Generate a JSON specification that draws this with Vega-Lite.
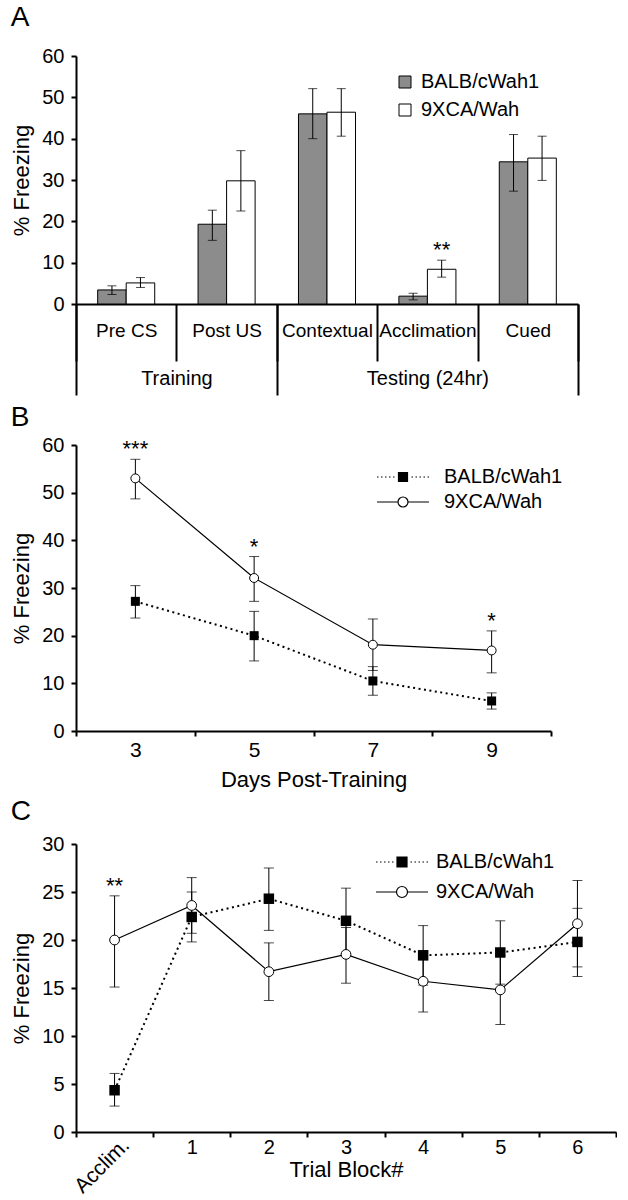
{
  "$schema": "https://vega.github.io/schema/vega-lite/v6.json",
  "background": "white",
  "padding": {"left": 10, "top": 4, "right": 0, "bottom": 0},
  "spacing": 8,
  "resolve": {
    "scale": {"fill": "independent", "shape": "independent"},
    "legend": {"fill": "independent", "shape": "independent"}
  },
  "datasets": {
    "phases": [
      {"phase": "Training", "n": 2},
      {"phase": "Testing (24hr)", "n": 3}
    ],
    "A": [
      {"cond": "Pre CS", "strain": "BALB/cWah1", "mean": 3.4, "lo": 2.3, "hi": 4.4, "sig": ""},
      {"cond": "Pre CS", "strain": "9XCA/Wah", "mean": 5.1, "lo": 4.0, "hi": 6.4, "sig": ""},
      {"cond": "Post US", "strain": "BALB/cWah1", "mean": 19.3, "lo": 15.4, "hi": 22.7, "sig": ""},
      {"cond": "Post US", "strain": "9XCA/Wah", "mean": 29.8, "lo": 22.5, "hi": 37.1, "sig": ""},
      {"cond": "Contextual", "strain": "BALB/cWah1", "mean": 46.0, "lo": 40.0, "hi": 52.1, "sig": ""},
      {"cond": "Contextual", "strain": "9XCA/Wah", "mean": 46.4, "lo": 40.6, "hi": 52.1, "sig": ""},
      {"cond": "Acclimation", "strain": "BALB/cWah1", "mean": 1.9, "lo": 1.0, "hi": 2.6, "sig": ""},
      {"cond": "Acclimation", "strain": "9XCA/Wah", "mean": 8.4, "lo": 6.5, "hi": 10.6, "sig": "**"},
      {"cond": "Cued", "strain": "BALB/cWah1", "mean": 34.4, "lo": 27.3, "hi": 41.0, "sig": ""},
      {"cond": "Cued", "strain": "9XCA/Wah", "mean": 35.3, "lo": 29.9, "hi": 40.6, "sig": ""}
    ],
    "B": [
      {"day": 3, "strain": "BALB/cWah1", "mean": 27.2, "lo": 23.7, "hi": 30.5, "sig": ""},
      {"day": 5, "strain": "BALB/cWah1", "mean": 20.0, "lo": 14.7, "hi": 25.1, "sig": ""},
      {"day": 7, "strain": "BALB/cWah1", "mean": 10.5, "lo": 7.5, "hi": 13.5, "sig": ""},
      {"day": 9, "strain": "BALB/cWah1", "mean": 6.3, "lo": 4.6, "hi": 8.0, "sig": ""},
      {"day": 3, "strain": "9XCA/Wah", "mean": 53.0, "lo": 48.7, "hi": 57.0, "sig": "***"},
      {"day": 5, "strain": "9XCA/Wah", "mean": 32.1, "lo": 27.2, "hi": 36.6, "sig": "*"},
      {"day": 7, "strain": "9XCA/Wah", "mean": 18.1, "lo": 12.7, "hi": 23.5, "sig": ""},
      {"day": 9, "strain": "9XCA/Wah", "mean": 16.9, "lo": 12.2, "hi": 21.0, "sig": "*"}
    ],
    "C": [
      {"block": "Acclim.", "strain": "BALB/cWah1", "mean": 4.35, "lo": 2.7, "hi": 6.1, "sig": ""},
      {"block": "1", "strain": "BALB/cWah1", "mean": 22.4, "lo": 19.8, "hi": 25.0, "sig": ""},
      {"block": "2", "strain": "BALB/cWah1", "mean": 24.3, "lo": 21.0, "hi": 27.5, "sig": ""},
      {"block": "3", "strain": "BALB/cWah1", "mean": 22.0, "lo": 18.6, "hi": 25.4, "sig": ""},
      {"block": "4", "strain": "BALB/cWah1", "mean": 18.4, "lo": 15.3, "hi": 21.5, "sig": ""},
      {"block": "5", "strain": "BALB/cWah1", "mean": 18.7, "lo": 15.4, "hi": 22.0, "sig": ""},
      {"block": "6", "strain": "BALB/cWah1", "mean": 19.8, "lo": 16.2, "hi": 23.3, "sig": ""},
      {"block": "Acclim.", "strain": "9XCA/Wah", "mean": 20.0, "lo": 15.1, "hi": 24.6, "sig": "**"},
      {"block": "1", "strain": "9XCA/Wah", "mean": 23.6, "lo": 20.7, "hi": 26.5, "sig": ""},
      {"block": "2", "strain": "9XCA/Wah", "mean": 16.7, "lo": 13.7, "hi": 19.7, "sig": ""},
      {"block": "3", "strain": "9XCA/Wah", "mean": 18.5, "lo": 15.5, "hi": 21.3, "sig": ""},
      {"block": "4", "strain": "9XCA/Wah", "mean": 15.7, "lo": 12.5, "hi": 18.9, "sig": ""},
      {"block": "5", "strain": "9XCA/Wah", "mean": 14.8, "lo": 11.2, "hi": 18.4, "sig": ""},
      {"block": "6", "strain": "9XCA/Wah", "mean": 21.7, "lo": 17.2, "hi": 26.2, "sig": ""}
    ]
  },
  "vconcat": [
    {
      "width": 502,
      "height": 248,
      "title": {"text": "A", "offset": 14},
      "layer": [
        {
          "data": {"name": "phases"},
          "mark": {"type": "bar", "opacity": 0},
          "encoding": {
            "x": {
              "field": "n", "type": "quantitative", "stack": "zero",
              "scale": {"domain": [0, 5], "nice": false},
              "axis": {
                "title": null, "orient": "bottom", "values": [0, 1, 2, 3.5, 5],
                "labelExpr": "datum.value == 1 ? 'Training' : datum.value == 3.5 ? 'Testing (24hr)' : ''",
                "tickSize": 91,
                "tickOpacity": {"condition": {"test": "datum.value == 0 || datum.value == 2 || datum.value == 5", "value": 1}, "value": 0},
                "domain": false, "labelPadding": -27, "labelOverlap": false, "labelFlush": false, "labelFontSize": 20
              }
            },
            "detail": {"field": "phase"}
          }
        },
        {
          "data": {"name": "A"},
          "encoding": {
            "x": {
              "field": "cond", "type": "nominal",
              "sort": ["Pre CS", "Post US", "Contextual", "Acclimation", "Cued"],
              "scale": {"paddingInner": 0, "paddingOuter": 0},
              "axis": {"title": null, "orient": "bottom", "tickBand": "extent", "tickSize": 57, "labelPadding": -40, "labelAngle": 0, "labelFontSize": 19}
            },
            "xOffset": {"field": "strain", "sort": ["BALB/cWah1", "9XCA/Wah"], "scale": {"paddingOuter": 0.76, "paddingInner": 0}}
          },
          "layer": [
            {
              "mark": {"type": "bar", "stroke": "black", "strokeWidth": 1},
              "encoding": {
                "y": {"field": "mean", "type": "quantitative", "title": "% Freezing", "scale": {"domain": [0, 60]}, "axis": {"values": [0, 10, 20, 30, 40, 50, 60]}},
                "fill": {
                  "field": "strain", "type": "nominal", "sort": ["BALB/cWah1", "9XCA/Wah"],
                  "scale": {"domain": ["BALB/cWah1", "9XCA/Wah"], "range": ["#8c8c8c", "white"]},
                  "legend": {
                    "title": null, "orient": "none", "legendX": 319, "legendY": 16,
                    "symbolType": "square", "symbolSize": 144, "symbolStrokeColor": "black", "symbolStrokeWidth": 1,
                    "labelOffset": 6, "rowPadding": 8, "labelFontSize": 20,
                    "encode": {"symbols": {"update": {"stroke": {"value": "black"}, "strokeWidth": {"value": 1}, "opacity": {"value": 1}}}}
                  }
                }
              }
            },
            {
              "mark": {"type": "rule", "color": "black", "strokeWidth": 1},
              "encoding": {
                "y": {"field": "lo", "type": "quantitative", "title": "% Freezing", "scale": {"domain": [0, 60]}},
                "y2": {"field": "hi"}
              }
            },
            {
              "mark": {"type": "tick", "color": "black", "thickness": 1, "size": 9},
              "encoding": {"y": {"field": "hi", "type": "quantitative", "title": "% Freezing", "scale": {"domain": [0, 60]}}}
            },
            {
              "mark": {"type": "tick", "color": "black", "thickness": 1, "size": 9},
              "encoding": {"y": {"field": "lo", "type": "quantitative", "title": "% Freezing", "scale": {"domain": [0, 60]}}}
            },
            {
              "mark": {"type": "text", "fontSize": 22, "baseline": "alphabetic", "dy": -3, "color": "black"},
              "encoding": {
                "y": {"field": "hi", "type": "quantitative", "title": "% Freezing", "scale": {"domain": [0, 60]}},
                "text": {"field": "sig"}
              }
            }
          ]
        }
      ],
      "resolve": {"scale": {"x": "independent"}, "axis": {"x": "independent"}}
    },
    {
      "width": 475,
      "height": 286,
      "title": {"text": "B", "offset": 3},
      "data": {"name": "B"},
      "encoding": {
        "x": {
          "field": "day", "type": "ordinal", "bandPosition": 0.5,
          "scale": {"type": "band", "paddingInner": 0, "paddingOuter": 0},
          "axis": {"title": "Days Post-Training", "tickBand": "extent", "labelAngle": 0, "labelPadding": 3, "labelFontSize": 21, "titlePadding": 9}
        }
      },
      "layer": [
        {
          "mark": {"type": "point", "opacity": 0, "filled": true, "stroke": "black"},
          "encoding": {
            "y": {"field": "mean", "type": "quantitative", "title": "% Freezing", "scale": {"domain": [0, 60]}, "axis": {"values": [0, 10, 20, 30, 40, 50, 60]}},
            "shape": {
              "field": "strain", "type": "nominal",
              "scale": {"domain": ["BALB/cWah1", "9XCA/Wah"], "range": [
                "M-5.2,0H-4.9M-4.4,0H-4.1M-3.6,0H-3.3M-2.8,0H-2.5M-2,0H-1.7M1.7,0H2M2.5,0H2.8M3.3,0H3.6M4.1,0H4.4M4.9,0H5.2M-0.9,-0.9H0.9V0.9H-0.9Z",
                "M-5.2,0H-1M1,0H5.2M1,0A1,1,0,1,1,-1,0A1,1,0,1,1,1,0Z"
              ]},
              "legend": {
                "title": null, "orient": "none", "legendX": 301, "legendY": 22,
                "symbolSize": 100, "symbolStrokeColor": "black", "symbolStrokeWidth": 1.2,
                "symbolOffset": 16, "labelOffset": 31, "rowPadding": 5, "labelFontSize": 20, "symbolOpacity": 1,
                "encode": {"symbols": {"update": {"stroke": {"value": "black"}, "strokeWidth": {"value": 1.2}, "opacity": {"value": 1}}}}
              }
            },
            "fill": {
              "field": "strain", "type": "nominal",
              "scale": {"domain": ["BALB/cWah1", "9XCA/Wah"], "range": ["black", "white"]},
              "legend": {
                "title": null, "orient": "none", "legendX": 301, "legendY": 22,
                "symbolSize": 100, "symbolStrokeColor": "black", "symbolStrokeWidth": 1.2,
                "symbolOffset": 16, "labelOffset": 31, "rowPadding": 5, "labelFontSize": 20, "symbolOpacity": 1,
                "encode": {"symbols": {"update": {"stroke": {"value": "black"}, "strokeWidth": {"value": 1.2}, "opacity": {"value": 1}}}}
              }
            }
          }
        },
        {
          "transform": [{"filter": "datum.strain == 'BALB/cWah1'"}],
          "mark": {"type": "line", "color": "black", "strokeWidth": 2, "strokeDash": [2, 3.5]},
          "encoding": {"y": {"field": "mean", "type": "quantitative", "title": "% Freezing", "scale": {"domain": [0, 60]}}}
        },
        {
          "transform": [{"filter": "datum.strain == '9XCA/Wah'"}],
          "mark": {"type": "line", "color": "black", "strokeWidth": 1.2},
          "encoding": {"y": {"field": "mean", "type": "quantitative", "title": "% Freezing", "scale": {"domain": [0, 60]}}}
        },
        {
          "mark": {"type": "rule", "color": "black", "strokeWidth": 1},
          "encoding": {
            "y": {"field": "lo", "type": "quantitative", "title": "% Freezing", "scale": {"domain": [0, 60]}},
            "y2": {"field": "hi"}
          }
        },
        {
          "mark": {"type": "tick", "color": "black", "thickness": 1, "size": 10},
          "encoding": {"y": {"field": "hi", "type": "quantitative", "title": "% Freezing", "scale": {"domain": [0, 60]}}}
        },
        {
          "mark": {"type": "tick", "color": "black", "thickness": 1, "size": 10},
          "encoding": {"y": {"field": "lo", "type": "quantitative", "title": "% Freezing", "scale": {"domain": [0, 60]}}}
        },
        {
          "transform": [{"filter": "datum.strain == 'BALB/cWah1'"}],
          "mark": {"type": "square", "filled": true, "color": "black", "size": 81, "opacity": 1},
          "encoding": {"y": {"field": "mean", "type": "quantitative", "title": "% Freezing", "scale": {"domain": [0, 60]}}}
        },
        {
          "transform": [{"filter": "datum.strain == '9XCA/Wah'"}],
          "mark": {"type": "point", "shape": "circle", "filled": true, "fill": "white", "stroke": "black", "strokeWidth": 1, "size": 80, "opacity": 1},
          "encoding": {"y": {"field": "mean", "type": "quantitative", "title": "% Freezing", "scale": {"domain": [0, 60]}}}
        },
        {
          "mark": {"type": "text", "fontSize": 22, "baseline": "alphabetic", "dy": -3, "color": "black"},
          "encoding": {
            "y": {"field": "hi", "type": "quantitative", "title": "% Freezing", "scale": {"domain": [0, 60]}},
            "text": {"field": "sig"}
          }
        }
      ]
    },
    {
      "width": 540,
      "height": 288,
      "title": {"text": "C", "offset": 8},
      "data": {"name": "C"},
      "layer": [
        {
          "encoding": {
            "x": {
              "field": "block", "type": "ordinal", "bandPosition": 0.5,
              "sort": ["Acclim.", "1", "2", "3", "4", "5", "6"],
              "scale": {"type": "band", "paddingInner": 0, "paddingOuter": 0},
              "axis": {"title": "Trial Block#", "orient": "bottom", "tickBand": "extent", "labelAngle": 0, "labelPadding": 0, "labelFontSize": 20, "titlePadding": 2,
                "labelExpr": "datum.value == 'Acclim.' ? '' : datum.label"}
            }
          },
          "layer": [
            {
              "mark": {"type": "point", "opacity": 0, "filled": true, "stroke": "black"},
              "encoding": {
                "y": {"field": "mean", "type": "quantitative", "title": "% Freezing", "scale": {"domain": [0, 30]}, "axis": {"values": [0, 5, 10, 15, 20, 25, 30]}},
                "shape": {
                  "field": "strain", "type": "nominal",
                  "scale": {"domain": ["BALB/cWah1", "9XCA/Wah"], "range": [
                    "M-5.2,0H-4.9M-4.4,0H-4.1M-3.6,0H-3.3M-2.8,0H-2.5M-2,0H-1.7M1.7,0H2M2.5,0H2.8M3.3,0H3.6M4.1,0H4.4M4.9,0H5.2M-1,-1H1V1H-1Z",
                    "M-5.2,0H-1.1M1.1,0H5.2M1.1,0A1.1,1.1,0,1,1,-1.1,0A1.1,1.1,0,1,1,1.1,0Z"
                  ]},
                  "legend": {
                    "title": null, "orient": "none", "legendX": 300, "legendY": 8,
                    "symbolSize": 100, "symbolStrokeColor": "black", "symbolStrokeWidth": 1.2,
                    "symbolOffset": 16, "labelOffset": 24, "rowPadding": 10, "labelFontSize": 20, "symbolOpacity": 1,
                    "encode": {"symbols": {"update": {"stroke": {"value": "black"}, "strokeWidth": {"value": 1.2}, "opacity": {"value": 1}}}}
                  }
                },
                "fill": {
                  "field": "strain", "type": "nominal",
                  "scale": {"domain": ["BALB/cWah1", "9XCA/Wah"], "range": ["black", "white"]},
                  "legend": {
                    "title": null, "orient": "none", "legendX": 300, "legendY": 8,
                    "symbolSize": 100, "symbolStrokeColor": "black", "symbolStrokeWidth": 1.2,
                    "symbolOffset": 16, "labelOffset": 24, "rowPadding": 10, "labelFontSize": 20, "symbolOpacity": 1,
                    "encode": {"symbols": {"update": {"stroke": {"value": "black"}, "strokeWidth": {"value": 1.2}, "opacity": {"value": 1}}}}
                  }
                }
              }
            },
            {
              "transform": [{"filter": "datum.strain == 'BALB/cWah1'"}],
              "mark": {"type": "line", "color": "black", "strokeWidth": 2, "strokeDash": [2, 3.5]},
              "encoding": {"y": {"field": "mean", "type": "quantitative", "title": "% Freezing", "scale": {"domain": [0, 30]}}}
            },
            {
              "transform": [{"filter": "datum.strain == '9XCA/Wah'"}],
              "mark": {"type": "line", "color": "black", "strokeWidth": 1.2},
              "encoding": {"y": {"field": "mean", "type": "quantitative", "title": "% Freezing", "scale": {"domain": [0, 30]}}}
            },
            {
              "mark": {"type": "rule", "color": "black", "strokeWidth": 1},
              "encoding": {
                "y": {"field": "lo", "type": "quantitative", "title": "% Freezing", "scale": {"domain": [0, 30]}},
                "y2": {"field": "hi"}
              }
            },
            {
              "mark": {"type": "tick", "color": "black", "thickness": 1, "size": 10},
              "encoding": {"y": {"field": "hi", "type": "quantitative", "title": "% Freezing", "scale": {"domain": [0, 30]}}}
            },
            {
              "mark": {"type": "tick", "color": "black", "thickness": 1, "size": 10},
              "encoding": {"y": {"field": "lo", "type": "quantitative", "title": "% Freezing", "scale": {"domain": [0, 30]}}}
            },
            {
              "transform": [{"filter": "datum.strain == 'BALB/cWah1'"}],
              "mark": {"type": "square", "filled": true, "color": "black", "size": 110, "opacity": 1},
              "encoding": {"y": {"field": "mean", "type": "quantitative", "title": "% Freezing", "scale": {"domain": [0, 30]}}}
            },
            {
              "transform": [{"filter": "datum.strain == '9XCA/Wah'"}],
              "mark": {"type": "point", "shape": "circle", "filled": true, "fill": "white", "stroke": "black", "strokeWidth": 1, "size": 95, "opacity": 1},
              "encoding": {"y": {"field": "mean", "type": "quantitative", "title": "% Freezing", "scale": {"domain": [0, 30]}}}
            }
          ]
        },
        {
          "mark": {"type": "text", "fontSize": 22, "baseline": "alphabetic", "dy": -3, "color": "black"},
          "encoding": {
            "x": {
              "field": "block", "type": "ordinal", "bandPosition": 0.5,
              "scale": {"type": "band", "domain": ["Acclim.", "1", "2", "3", "4", "5", "6"], "paddingInner": 0, "paddingOuter": 0},
              "axis": {"title": null, "orient": "bottom", "domain": false, "ticks": false, "labelAngle": -45, "labelAlign": "right", "labelBaseline": "top", "labelPadding": 2, "labelOffset": 4, "labelFontSize": 21,
                "labelExpr": "datum.value == 'Acclim.' ? datum.label : ''"}
            },
            "y": {"field": "hi", "type": "quantitative", "title": "% Freezing", "scale": {"domain": [0, 30]}},
            "text": {"field": "sig"}
          }
        }
      ],
      "resolve": {"scale": {"x": "independent"}, "axis": {"x": "independent"}}
    }
  ],
  "config": {
    "font": "Liberation Sans",
    "view": {"stroke": null},
    "axis": {
      "domainColor": "black", "domainWidth": 2, "tickColor": "black", "tickWidth": 2, "tickSize": 5,
      "labelColor": "black", "labelFontSize": 20, "labelFont": "Liberation Sans",
      "titleFont": "Liberation Sans", "titleFontSize": 22, "titleFontWeight": "normal", "titleColor": "black",
      "grid": false, "labelPadding": 6
    },
    "axisY": {"titlePadding": 8, "labelPadding": 7},
    "legend": {"labelFont": "Liberation Sans", "labelFontSize": 20, "labelColor": "black", "padding": 0},
    "title": {"font": "Liberation Sans", "fontSize": 28, "fontWeight": "normal", "color": "black", "anchor": "start", "frame": "bounds"}
  }
}
